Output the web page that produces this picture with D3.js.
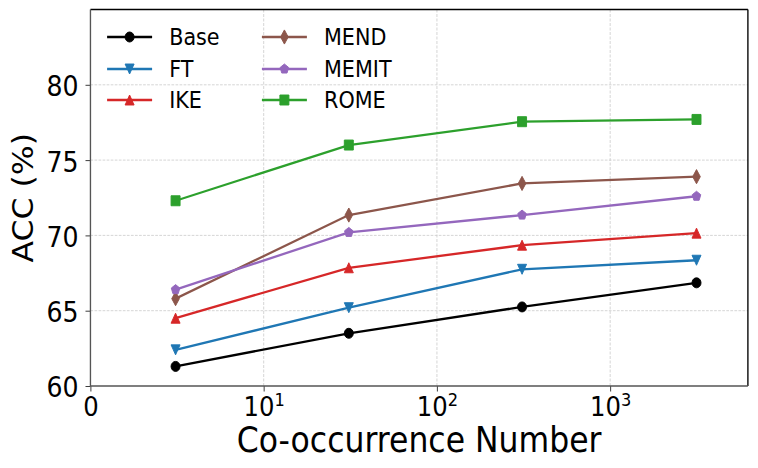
<!DOCTYPE html>
<html>
<head>
<meta charset="utf-8">
<script src="https://cdn.jsdelivr.net/npm/d3@7"></script>
<style>
  body { margin: 0; background: #fff; }
  text { font-family: "DejaVu Sans", sans-serif; fill: #000; }
</style>
</head>
<body>
<script>
// data
const coOccurrence = [3.1, 31, 310, 3150];
const seriesNames = ["Base", "FT", "IKE", "MEND", "MEMIT", "ROME"];
const baseAcc  = [61.3, 63.5, 65.25, 66.85];
const ftAcc    = [62.4, 65.2, 67.75, 68.35];
const ikeAcc   = [64.5, 67.85, 69.35, 70.15];
const mendAcc  = [65.8, 71.35, 73.45, 73.9];
const memitAcc = [66.4, 70.2, 71.35, 72.6];
const romeAcc  = [72.3, 76.0, 77.55, 77.7];
const yTicks = [60, 65, 70, 75, 80];
const xTicks = [1, 10, 100, 1000];
const xTickBase = ["0", "10", "10", "10"];
const xTickExp = ["", "1", "2", "3"];

const colors = ["#000000", "#1f77b4", "#d62728", "#8c564b", "#9467bd", "#2ca02c"];
const markers = ["circle", "tridown", "triup", "thindiamond", "pentagon", "square"];
const allValues = [baseAcc, ftAcc, ikeAcc, mendAcc, memitAcc, romeAcc];

// the reference is squeezed horizontally, so draw in a wider viewBox
const squeeze = 0.9;
const VW = 758 / squeeze, VH = 468;
const plotLeft = 100.5, plotRight = 831, plotTop = 9.5, plotBottom = 386;

const svg = d3.select("body").append("svg")
    .attr("width", 758)
    .attr("height", 468)
    .attr("viewBox", `0 0 ${VW} ${VH}`)
    .attr("preserveAspectRatio", "none");

const x = d3.scaleLog().domain([1, 6237]).range([plotLeft, plotRight]);
const y = d3.scaleLinear().domain([60, 85]).range([plotBottom, plotTop]);

// grid
const grid = svg.append("g")
    .attr("stroke", "#c8c8c8")
    .attr("stroke-width", 0.8)
    .attr("stroke-dasharray", "3,1.5");
grid.selectAll(".gx").data(xTicks.slice(1)).enter().append("line")
    .attr("x1", d => x(d)).attr("x2", d => x(d))
    .attr("y1", plotTop).attr("y2", plotBottom);
grid.selectAll(".gy").data(yTicks.slice(1)).enter().append("line")
    .attr("x1", plotLeft).attr("x2", plotRight)
    .attr("y1", d => y(d)).attr("y2", d => y(d));

// axes
const yAxis = svg.append("g")
    .attr("transform", `translate(${plotLeft},0)`)
    .call(d3.axisLeft(y).tickValues(yTicks).tickSize(5.5).tickPadding(7.8).tickSizeOuter(0));
yAxis.select(".domain").remove();
yAxis.selectAll(".tick line").attr("stroke", "#333");
yAxis.selectAll(".tick text")
    .attr("dy", "0.39em")
    .attr("font-size", 28)
    .attr("font-family", "DejaVu Sans");

const xAxis = svg.append("g")
    .attr("transform", `translate(0,${plotBottom})`)
    .call(d3.axisBottom(x).tickValues(xTicks).tickSize(5.5).tickFormat(() => "").tickSizeOuter(0));
xAxis.select(".domain").remove();
xAxis.selectAll(".tick line").attr("stroke", "#333");
xAxis.selectAll(".tick text").each(function (d, i) {
    const t = d3.select(this)
        .attr("y", 30)
        .attr("dy", null)
        .attr("font-size", 27)
        .attr("font-family", "DejaVu Sans");
    t.append("tspan").text(xTickBase[i]);
    if (xTickExp[i]) {
        t.append("tspan").attr("dy", -9.5).attr("font-size", 18).text(xTickExp[i]);
    }
});

// axis labels
svg.append("text")
    .attr("x", (plotLeft + plotRight) / 2)
    .attr("y", 452)
    .attr("text-anchor", "middle")
    .attr("font-size", 35)
    .text("Co-occurrence Number");

svg.append("text")
    .attr("transform", `translate(37,${(plotTop + plotBottom) / 2}) rotate(-90)`)
    .attr("text-anchor", "middle")
    .attr("font-size", 31.5)
    .text("ACC (%)");

// marker shapes, matplotlib-like
const ms = 10;
function markerPath(kind) {
    const h = ms / 2;
    if (kind === "circle") {
        return `M${h},0A${h},${h} 0 1,1 ${-h},0A${h},${h} 0 1,1 ${h},0Z`;
    }
    if (kind === "tridown") return `M0,${h}L${-h},${-h}L${h},${-h}Z`;
    if (kind === "triup") return `M0,${-h}L${-h},${h}L${h},${h}Z`;
    if (kind === "square") return `M${-h},${-h}H${h}V${h}H${-h}Z`;
    if (kind === "thindiamond") {
        const dy = 0.707 * ms, dx = 0.6 * dy;
        return `M0,${-dy}L${dx},0L0,${dy}L${-dx},0Z`;
    }
    if (kind === "pentagon") {
        const pts = d3.range(5).map(k => {
            const a = -Math.PI / 2 + k * 2 * Math.PI / 5;
            return [h * Math.cos(a), h * Math.sin(a)];
        });
        return "M" + pts.map(p => p.join(",")).join("L") + "Z";
    }
}

const line = d3.line()
    .x((d, i) => x(coOccurrence[i]))
    .y(d => y(d));

// series
seriesNames.forEach((name, s) => {
    const g = svg.append("g");
    g.append("path")
        .datum(allValues[s])
        .attr("d", line)
        .attr("fill", "none")
        .attr("stroke", colors[s])
        .attr("stroke-width", 2.3)
        .attr("stroke-linejoin", "round");
    g.selectAll(".pt")
        .data(allValues[s])
        .enter().append("path")
        .attr("transform", (d, i) => `translate(${x(coOccurrence[i])},${y(d)})`)
        .attr("d", markerPath(markers[s]))
        .attr("fill", colors[s])
        .attr("stroke", colors[s])
        .attr("stroke-width", 1);
});

// legend, two columns of three
const legCols = [119, 291];
const legRows = [37, 69, 100];
seriesNames.forEach((name, s) => {
    const cx = legCols[Math.floor(s / 3)];
    const cy = legRows[s % 3];
    const g = svg.append("g");
    g.append("line")
        .attr("x1", cx).attr("x2", cx + 50)
        .attr("y1", cy).attr("y2", cy)
        .attr("stroke", colors[s])
        .attr("stroke-width", 2.3);
    g.append("path")
        .attr("transform", `translate(${cx + 25},${cy})`)
        .attr("d", markerPath(markers[s]))
        .attr("fill", colors[s])
        .attr("stroke", colors[s])
        .attr("stroke-width", 1);
    g.append("text")
        .attr("x", cx + 69)
        .attr("y", cy)
        .attr("dy", "0.36em")
        .attr("font-size", 23)
        .text(name);
});

// frame
svg.append("line").attr("x1", plotLeft).attr("x2", plotRight).attr("y1", plotTop).attr("y2", plotTop)
    .attr("stroke", "#000").attr("stroke-width", 1.5);
svg.append("line").attr("x1", plotRight).attr("x2", plotRight).attr("y1", plotTop).attr("y2", plotBottom)
    .attr("stroke", "#000").attr("stroke-width", 1.5);
svg.append("line").attr("x1", plotLeft).attr("x2", plotLeft).attr("y1", plotTop).attr("y2", plotBottom)
    .attr("stroke", "#555").attr("stroke-width", 1.5);
svg.append("line").attr("x1", plotLeft).attr("x2", plotRight).attr("y1", plotBottom).attr("y2", plotBottom)
    .attr("stroke", "#555").attr("stroke-width", 1.5);
</script>
</body>
</html>
